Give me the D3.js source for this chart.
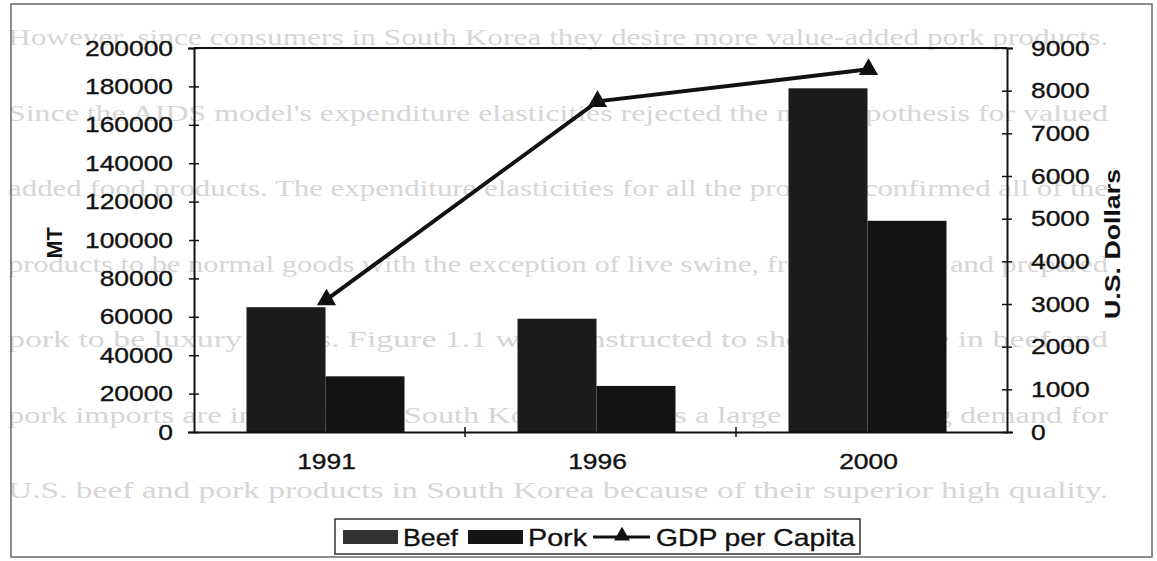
<!DOCTYPE html>
<html>
<head>
<meta charset="utf-8">
<script src="https://cdn.jsdelivr.net/npm/d3@7"></script>
<style>
  body { margin: 0; background: #fff; }
  svg { display: block; }
  text { font-family: "Liberation Sans", Arial, sans-serif; }
</style>
</head>
<body>
<svg id="chart" width="1157" height="561"></svg>
<script>
// data
const years = ["1991", "1996", "2000"];
const series = ["Beef", "Pork"];
const beef = [65000, 59000, 179000];
const pork = [29000, 24000, 110000];
const gdp = [3100, 7750, 8500];
const leftTicks = [0, 20000, 40000, 60000, 80000, 100000, 120000, 140000, 160000, 180000, 200000];
const rightTicks = [0, 1000, 2000, 3000, 4000, 5000, 6000, 7000, 8000, 9000];

// faint text from the scanned page behind the chart
const bgLines = [
  "However, since consumers in South Korea they desire more value-added pork products.",
  "Since the AIDS model's expenditure elasticities rejected the null hypothesis for valued",
  "added food products. The expenditure elasticities for all the products confirmed all of the",
  "products to be normal goods with the exception of live swine, frozen, chilled and prepared",
  "pork to be luxury goods. Figure 1.1 was constructed to show the raise in beef and",
  "pork imports are increasing in South Korea. There is a large and growing demand for",
  "U.S. beef and pork products in South Korea because of their superior high quality."
];

const svg = d3.select("#chart");
const width = +svg.attr("width");
const height = +svg.attr("height");

const plot = { left: 194, right: 1007, top: 48, bottom: 432 };
const stretch = 1.2; // the scan widens every glyph

svg.append("rect").attr("width", width).attr("height", height).attr("fill", "#fff");

// background bleed-through text
svg.append("g")
   .selectAll("text")
   .data(bgLines)
   .join("text")
   .attr("x", 8)
   .attr("y", (d, i) => 45 + i * 75.5)
   .attr("textLength", 1100)
   .attr("lengthAdjust", "spacingAndGlyphs")
   .attr("fill", "#d6d6d6")
   .style("font-family", "'Liberation Serif', 'Times New Roman', serif")
   .style("font-size", "24px")
   .text(d => d);

// outer chart frame
svg.append("rect")
   .attr("x", 11).attr("y", 4)
   .attr("width", 1141).attr("height", 553)
   .attr("fill", "none")
   .attr("stroke", "#6a6a6a")
   .attr("stroke-width", 1.5);

const x = d3.scaleBand().domain(years).range([plot.left, plot.right]);
const xSub = d3.scaleBand().domain(series).range([-80, 78]);
const yL = d3.scaleLinear().domain([0, 200000]).range([plot.bottom, plot.top]);
const yR = d3.scaleLinear().domain([0, 9000]).range([plot.bottom, plot.top]);

const barColor = { Beef: "#1b1b1b", Pork: "#131313" };
const rows = years.map((yr, i) => ({ year: yr, Beef: beef[i], Pork: pork[i] }));

// bars
svg.append("g")
   .selectAll("g")
   .data(rows)
   .join("g")
   .attr("transform", d => `translate(${x(d.year) + x.bandwidth() / 2 - 3},0)`)
   .selectAll("rect")
   .data(d => series.map(s => ({ key: s, value: d[s] })))
   .join("rect")
   .attr("x", d => xSub(d.key))
   .attr("y", d => yL(d.value))
   .attr("width", xSub.bandwidth())
   .attr("height", d => yL(0) - yL(d.value))
   .attr("fill", d => barColor[d.key]);

// plot area border (top line)
svg.append("line")
   .attr("x1", plot.left).attr("x2", plot.right)
   .attr("y1", plot.top).attr("y2", plot.top)
   .attr("stroke", "#111").attr("stroke-width", 2);

// left axis
const leftAxis = svg.append("g")
   .attr("transform", `translate(${plot.left},0)`)
   .call(d3.axisLeft(yL).tickValues(leftTicks).tickSize(6).tickFormat(d3.format("d")));
leftAxis.selectAll(".tick line").attr("x2", 5).attr("x1", -5);
leftAxis.selectAll(".tick text").attr("x", -21 / stretch);

// right axis
const rightAxis = svg.append("g")
   .attr("transform", `translate(${plot.right},0)`)
   .call(d3.axisRight(yR).tickValues(rightTicks).tickSize(6).tickFormat(d3.format("d")));
rightAxis.selectAll(".tick line").attr("x1", -5).attr("x2", 5);
rightAxis.selectAll(".tick text").attr("x", 24 / stretch);

// x axis with ticks at category boundaries
const xAxis = svg.append("g")
   .attr("transform", `translate(0,${plot.bottom})`)
   .call(d3.axisBottom(x).tickSize(0).tickPadding(21));
xAxis.selectAll(".tick text").attr("x", -3 / stretch);
xAxis.selectAll("line.sep")
   .data(years.slice(1))
   .join("line")
   .attr("class", "sep")
   .attr("x1", d => x(d)).attr("x2", d => x(d))
   .attr("y1", -5).attr("y2", 5)
   .attr("stroke", "#111").attr("stroke-width", 1.5);

[leftAxis, rightAxis, xAxis].forEach(a => {
  a.select(".domain").attr("stroke", "#111").attr("stroke-width", 2);
  a.selectAll(".tick line").attr("stroke", "#111").attr("stroke-width", 1.5);
  a.selectAll(".tick text")
   .attr("transform", `scale(${stretch},1)`)
   .attr("fill", "#111")
   .attr("stroke", "#111")
   .attr("stroke-width", 0.35)
   .style("font-size", "22px")
   .style("font-family", "'Liberation Sans', Arial, sans-serif");
});

// GDP line
const pts = years.map((yr, i) => [x(yr) + x.bandwidth() / 2 - 3, yR(gdp[i])]);
svg.append("path")
   .datum(pts)
   .attr("d", d3.line())
   .attr("fill", "none")
   .attr("stroke", "#111")
   .attr("stroke-width", 4);

const tri = d3.symbol().type(d3.symbolTriangle).size(160);
svg.append("g")
   .selectAll("path")
   .data(pts)
   .join("path")
   .attr("transform", d => `translate(${d[0]},${d[1]})`)
   .attr("d", tri)
   .attr("fill", "#111");

// axis titles
svg.append("text")
   .attr("transform", "translate(62,243) rotate(-90)")
   .attr("text-anchor", "middle")
   .attr("fill", "#111")
   .attr("textLength", 31)
   .attr("lengthAdjust", "spacingAndGlyphs")
   .style("font-size", "22px")
   .style("font-weight", "bold")
   .text("MT");

svg.append("text")
   .attr("transform", "translate(1120,244) rotate(-90)")
   .attr("text-anchor", "middle")
   .attr("fill", "#111")
   .attr("textLength", 150)
   .attr("lengthAdjust", "spacingAndGlyphs")
   .style("font-size", "22px")
   .style("font-weight", "bold")
   .text("U.S. Dollars");

// legend
const legend = svg.append("g").attr("transform", "translate(335,519)");
legend.append("rect")
   .attr("width", 525).attr("height", 35)
   .attr("fill", "#fff")
   .attr("stroke", "#333").attr("stroke-width", 1.5);

const legendItems = [
  { label: "Beef", type: "bar", color: "#333", x: 8, w: 55 },
  { label: "Pork", type: "bar", color: "#151515", x: 133, w: 59 },
  { label: "GDP per Capita", type: "line", color: "#111", x: 258, w: 199 }
];
const li = legend.selectAll("g.item")
   .data(legendItems)
   .join("g")
   .attr("class", "item")
   .attr("transform", d => `translate(${d.x},0)`);

li.filter(d => d.type === "bar")
  .append("rect")
  .attr("y", 11).attr("width", 55).attr("height", 14)
  .attr("fill", d => d.color);

li.filter(d => d.type === "line")
  .append("line")
  .attr("x1", 0).attr("x2", 57).attr("y1", 18).attr("y2", 18)
  .attr("stroke", "#111").attr("stroke-width", 3);
li.filter(d => d.type === "line")
  .append("path")
  .attr("transform", "translate(29,17)")
  .attr("d", d3.symbol().type(d3.symbolTriangle).size(110))
  .attr("fill", "#111");

li.append("text")
  .attr("x", d => d.type === "bar" ? 60 : 63)
  .attr("y", 27)
  .attr("fill", "#111")
  .attr("stroke", "#111")
  .attr("stroke-width", 0.35)
  .attr("textLength", d => d.w)
  .attr("lengthAdjust", "spacingAndGlyphs")
  .style("font-size", "24px")
  .text(d => d.label);
</script>
</body>
</html>
